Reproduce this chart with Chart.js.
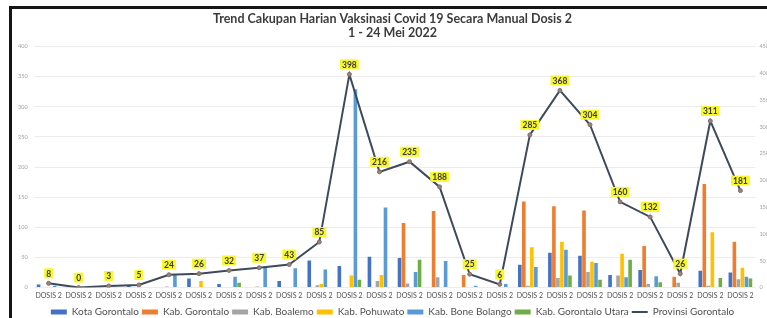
<!DOCTYPE html>
<html>
<head>
<meta charset="utf-8">
<script src="https://cdn.jsdelivr.net/npm/chart.js@4"></script>
<style>
  html, body { margin: 0; padding: 0; background: #fff; overflow: hidden; }
  #wrap { position: relative; width: 767px; height: 318px; }
</style>
</head>
<body>
<div id="wrap"><canvas id="chart" width="767" height="318"></canvas></div>
<script>
// ---- data ----
const days = Array.from({ length: 24 }, () => 'DOSIS 2');

const kotaGorontalo   = [5, 0, 1, 4, 0, 15, 6, 0, 11, 45, 36, 51, 49, 0, 0, 0, 38, 58, 53, 21, 29, 0, 28, 25];
const kabGorontalo    = [0, 0, 0, 0, 0, 0, 0, 0, 0, 0, 0, 0, 107, 127, 21, 0, 143, 135, 128, 0, 69, 18, 172, 76];
const kabBoalemo      = [0, 0, 0, 1, 2, 0, 0, 2, 0, 4, 0, 11, 7, 17, 1, 0, 3, 16, 26, 20, 6, 8, 3, 14];
const kabPohuwato     = [0, 0, 0, 0, 0, 11, 0, 0, 0, 6, 20, 21, 0, 0, 0, 0, 67, 76, 43, 56, 0, 0, 92, 33];
const kabBoneBolango  = [3, 0, 2, 0, 22, 0, 18, 35, 32, 30, 329, 133, 26, 44, 3, 6, 34, 63, 41, 17, 19, 0, 0, 18];
const kabGorutUtara   = [0, 0, 0, 0, 0, 0, 8, 0, 0, 0, 13, 0, 46, 0, 0, 0, 0, 20, 13, 46, 9, 0, 16, 15];
const provGorontalo   = [8, 0, 3, 5, 24, 26, 32, 37, 43, 85, 398, 216, 235, 188, 25, 6, 285, 368, 304, 160, 132, 26, 311, 181];

const leftTicks  = [0, 50, 100, 150, 200, 250, 300, 350, 400];
const rightTicks = [0, 50, 100, 150, 200, 250, 300, 350, 400, 450];

const FONT = 'Lato, "Open Sans", sans-serif';

const barSet = (label, data, color) => ({
    type: 'bar',
    label,
    data,
    backgroundColor: color,
    borderWidth: 0,
    categoryPercentage: 0.8,
    barPercentage: 0.9,
    yAxisID: 'y',
    order: 1,
});

// black frame on top/left like the screenshot
const framePlugin = {
    id: 'frame',
    beforeDraw(chart) {
        const ctx = chart.ctx;
        ctx.save();
        ctx.fillStyle = '#fff';
        ctx.fillRect(0, 0, chart.width, chart.height);
        ctx.fillStyle = '#151515';
        ctx.fillRect(9, 6, chart.width - 9, 3);
        ctx.fillRect(9, 6, 3, chart.height - 6);
        ctx.restore();
    },
};

// yellow highlighted value labels on the line
const valueLabels = {
    id: 'valueLabels',
    afterDatasetsDraw(chart) {
        const ctx = chart.ctx;
        const idx = chart.data.datasets.findIndex(d => d.type === 'line');
        const meta = chart.getDatasetMeta(idx);
        ctx.save();
        ctx.font = 'bold 8.5px ' + FONT;
        ctx.textAlign = 'center';
        ctx.textBaseline = 'middle';
        meta.data.forEach((pt, i) => {
            const txt = String(provGorontalo[i]);
            const w = ctx.measureText(txt).width + 4;
            const x = pt.x, y = pt.y - 10;
            ctx.fillStyle = '#F7F72A';
            ctx.fillRect(x - w / 2, y - 5, w, 10);
            ctx.fillStyle = '#3a3a3a';
            ctx.fillText(txt, x, y + 0.5);
        });
        ctx.restore();
    },
};

new Chart(document.getElementById('chart'), {
    data: {
        labels: days,
        datasets: [
            barSet('Kota Gorontalo', kotaGorontalo, '#4472C4'),
            barSet('Kab. Gorontalo', kabGorontalo, '#ED7D31'),
            barSet('Kab. Boalemo', kabBoalemo, '#A5A5A5'),
            barSet('Kab. Pohuwato', kabPohuwato, '#FFC000'),
            barSet('Kab. Bone Bolango', kabBoneBolango, '#5B9BD5'),
            barSet('Kab. Gorontalo Utara', kabGorutUtara, '#70AD47'),
            {
                type: 'line',
                label: 'Provinsi Gorontalo',
                data: provGorontalo,
                borderColor: '#3E4A5C',
                backgroundColor: '#3E4A5C',
                borderWidth: 2,
                tension: 0,
                pointRadius: 2,
                pointBackgroundColor: '#A08272',
                pointBorderColor: '#7A7070',
                pointBorderWidth: 1,
                yAxisID: 'y1',
                order: 0,
            },
        ],
    },
    options: {
        responsive: false,
        animation: false,
        layout: { padding: { left: 12, right: -6, top: 0, bottom: -9 } },
        plugins: {
            title: {
                display: true,
                text: ['Trend Cakupan Harian Vaksinasi Covid 19 Secara Manual Dosis 2', '1 - 24 Mei 2022'],
                color: '#3c3c3c',
                font: { family: FONT, size: 12.5, weight: 'bold', lineHeight: 1.1 },
                padding: { top: 12, bottom: 7 },
            },
            legend: {
                position: 'bottom',
                labels: {
                    font: { family: FONT, size: 10 },
                    color: '#505050',
                    usePointStyle: true,
                    pointStyleWidth: 16,
                    boxHeight: 5,
                    padding: 3,
                    sort: (a, b) => a.datasetIndex - b.datasetIndex,
                    generateLabels(chart) {
                        const items = Chart.defaults.plugins.legend.labels.generateLabels(chart);
                        items.forEach(it => {
                            const ds = chart.data.datasets[it.datasetIndex];
                            if (ds.type === 'line') {
                                it.pointStyle = 'line';
                                it.lineWidth = 2;
                                it.strokeStyle = '#3E4A5C';
                            } else {
                                it.pointStyle = 'rect';
                                it.lineWidth = 0;
                            }
                        });
                        return items;
                    },
                },
            },
            tooltip: { enabled: false },
        },
        scales: {
            x: {
                grid: { display: false, drawTicks: false },
                border: { display: false },
                ticks: {
                    font: { family: FONT, size: 7 },
                    color: '#505050',
                    maxRotation: 0,
                    autoSkip: false,
                    padding: 4,
                },
            },
            y: {
                position: 'left',
                min: 0,
                max: 400,
                afterBuildTicks: axis => { axis.ticks = leftTicks.map(v => ({ value: v })); },
                grid: { color: '#ECECEC', drawTicks: false },
                border: { display: false },
                ticks: { font: { family: FONT, size: 5.5 }, color: '#A0A0A0', padding: 6 },
            },
            y1: {
                position: 'right',
                min: 0,
                max: 450,
                afterBuildTicks: axis => { axis.ticks = rightTicks.map(v => ({ value: v })); },
                grid: { display: false, drawTicks: false },
                border: { display: false },
                ticks: { font: { family: FONT, size: 5.5 }, color: '#A0A0A0', padding: 4 },
            },
        },
    },
    plugins: [framePlugin, valueLabels],
});
</script>
</body>
</html>
